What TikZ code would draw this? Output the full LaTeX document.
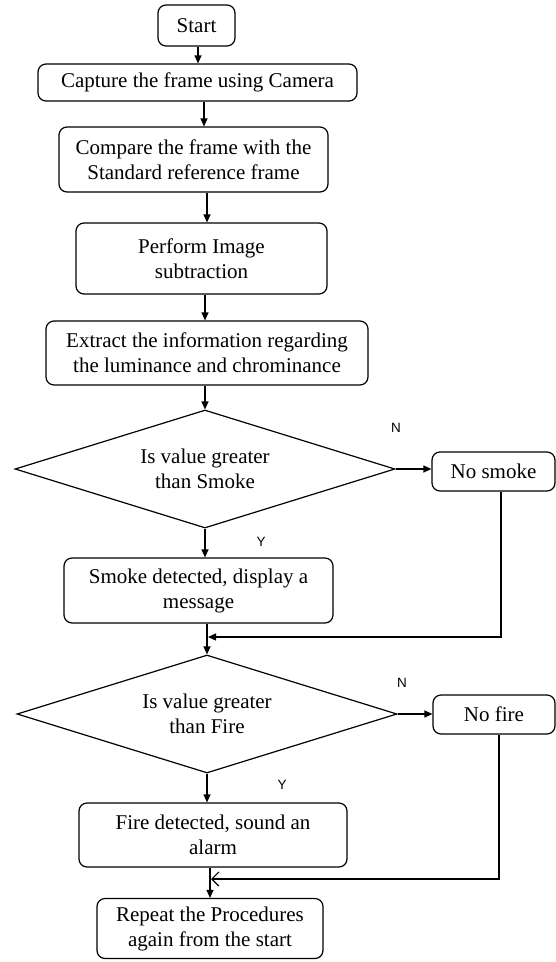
\documentclass[tikz,border=0pt]{standalone}
\usepackage{fontspec}
\setmainfont{Liberation Serif}
\newfontfamily\labelfont{Liberation Sans}
\usetikzlibrary{shapes.geometric,arrows.meta,calc}
\begin{document}
\begin{tikzpicture}[x=1pt,y=-1pt,
  every node/.style={font=\fontsize{21}{25}\selectfont, text=black},
  box/.style={draw, line width=1.2pt, rounded corners=8pt, align=center, inner sep=0pt},
  dia/.style={draw, line width=1.2pt, shape=diamond, shape aspect=3, align=center, inner sep=0pt, minimum width=380pt, minimum height=118pt},
  lbl/.style={font=\labelfont\fontsize{13.5}{16}\selectfont},
  arr/.style={line width=1.2pt, -{Triangle[length=8pt,width=7pt]}},
  arro/.style={line width=1.2pt, -{Straight Barb[length=7pt,width=14pt]}}
]
\useasboundingbox (0,0) rectangle (556,962);
\fill[white] (0,0) rectangle (556,962);

\node[box, minimum width=77pt, minimum height=41pt] (start) at (196.5,25.5) {Start};
\node[box, minimum width=319pt, minimum height=37pt] (capture) at (197.5,82.5) {Capture the frame using Camera};
\node[box, minimum width=269pt, minimum height=65pt] (compare) at (193.5,159.5) {Compare the frame with the\\Standard reference frame};
\node[box, minimum width=251pt, minimum height=71pt] (perform) at (201.5,258.5) {Perform Image\\subtraction};
\node[box, minimum width=322pt, minimum height=64pt] (extract) at (207,353) {Extract the information regarding\\the luminance and chrominance};
\node[dia] (d1) at (205,469) {Is value greater\\than Smoke};
\node[box, minimum width=123pt, minimum height=39pt] (nosmoke) at (493.5,471.5) {No smoke};
\node[box, minimum width=269pt, minimum height=65pt] (smoke) at (198.5,590.5) {Smoke detected, display a\\message};
\node[dia] (d2) at (207,714) {Is value greater\\than Fire};
\node[box, minimum width=122pt, minimum height=39pt] (nofire) at (494,714.5) {No fire};
\node[box, minimum width=268pt, minimum height=64pt] (fire) at (213,835) {Fire detected, sound an\\alarm};
\node[box, minimum width=226pt, minimum height=60pt] (repeat) at (210,928.5) {Repeat the Procedures\\again from the start};

\node[lbl] (n1) at (396,428) {N};
\node[lbl] (y1) at (261,542) {Y};
\node[lbl] (n2) at (402,683) {N};
\node[lbl] (y2) at (282,785) {Y};

\coordinate (m1) at (208,637);
\coordinate (m2) at (211,879);

\draw[arr] ([xshift=1.5pt]start.south) -- ([xshift=1.5pt]start.south |- capture.north);
\draw[arr] ([xshift=6.5pt]capture.south) -- ([xshift=6.5pt]capture.south |- compare.north);
\draw[arr] ([xshift=13.5pt]compare.south) -- ([xshift=13.5pt]compare.south |- perform.north);
\draw[arr] ([xshift=3.5pt]perform.south) -- ([xshift=3.5pt]perform.south |- extract.north);
\draw[arr] (d1.north |- extract.south) -- (d1.north);
\draw[arr] (d1.east) -- (d1.east -| nosmoke.west);
\draw[arr] (d1.south) -- (d1.south |- smoke.north);
\draw[arr] ([xshift=7.5pt]nosmoke.south) |- (m1);
\draw[arr] (d2.north |- smoke.south) -- (d2.north);
\draw[arr] (d2.east) -- (d2.east -| nofire.west);
\draw[arr] (d2.south) -- (d2.south |- fire.north);
\draw[arro] ([xshift=5pt]nofire.south) |- (m2);
\draw[arr] (repeat.north |- fire.south) -- (repeat.north);
\end{tikzpicture}
\end{document}
